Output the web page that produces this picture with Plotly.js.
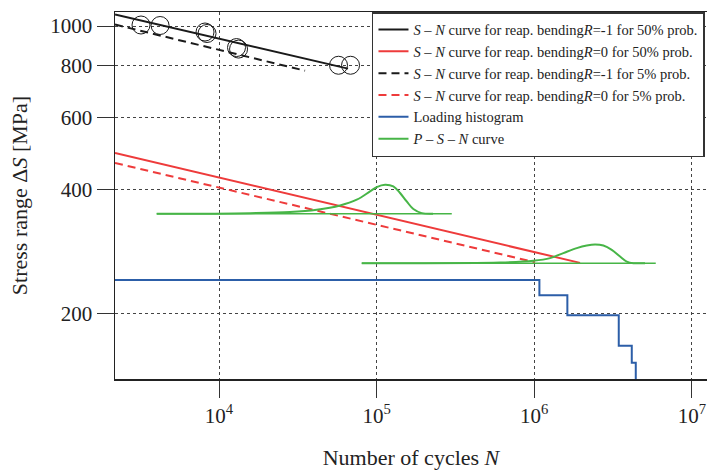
<!DOCTYPE html>
<html>
<head>
<meta charset="utf-8">
<script src="https://cdn.plot.ly/plotly-3.0.1.min.js"></script>
<style>html,body{margin:0;padding:0;background:#fff;}</style>
</head>
<body>
<div id="chart" style="width:707px;height:471px;"></div>
<script>
// Experimental data points (open circles)
const testN = [3199, 4227, 8150, 8394, 12910, 13300, 57300, 68300];
const testS = [1005.6, 1002.8, 967, 959, 886.5, 879, 803, 803];

// S-N curves (end points)
const snR1p50N = [2188, 65850];
const snR1p50S = [1066, 788];
const snR0p50N = [2188, 1953000];
const snR0p50S = [491.7, 266];
const snR1p5N = [2188, 35140];
const snR1p5S = [1008, 779];
const snR0p5N = [2188, 1010000];
const snR0p5S = [465, 267];

// Loading histogram (step)
const histN = [2000, 1078000, 1622000, 3437000, 4156000, 4406000];
const histS = [241.9, 222.1, 198.6, 167.5, 152.2, 130];

// P-S-N curve 1 (baseline + density)
const psn1BaseN = [4024, 299700];
const psn1BaseS = [350, 350];
const psn1N = [4024, 15730, 28220, 41690, 58600, 74770, 90800, 100100, 113100, 127600, 140800, 155200, 171000, 193300, 228000];
const psn1S = [350, 351.3, 353.4, 358, 366.7, 378.7, 396.7, 406.4, 411.7, 407.8, 393.2, 375, 359.4, 351.3, 350];

// P-S-N curve 2 (baseline + density)
const psn2BaseN = [80450, 5900000];
const psn2BaseS = [265.6, 265.6];
const psn2N = [80450, 606700, 987000, 1260000, 1530000, 1861000, 2154000, 2431000, 2745000, 3103000, 3503000, 3864000, 4255000, 5047000];
const psn2S = [265.6, 266.5, 269.1, 273.2, 281, 288.9, 293.1, 294.8, 293.1, 286.2, 275.6, 268.0, 265.6, 265.6];

const xTicks = [1e4, 1e5, 1e6, 1e7];
const xTickText = ['10<sup>4</sup>', '10<sup>5</sup>', '10<sup>6</sup>', '10<sup>7</sup>'];
const yTicks = [200, 400, 600, 800, 1000];
const yTickText = ['200', '400', '600', '800', '1000'];

const BLACK = '#1a1a1a', RED = '#ee3b3b', BLUE = '#2c5ea8', GREEN = '#47b547';
const SN = '<i>S</i> – <i>N</i> curve for reap. bending<i>R</i>=';

const traces = [
  {x: snR1p50N, y: snR1p50S, mode: 'lines', line: {color: BLACK, width: 2}, name: SN + '-1 for 50% prob.'},
  {x: snR0p50N, y: snR0p50S, mode: 'lines', line: {color: RED, width: 2}, name: SN + '0 for 50% prob.'},
  {x: snR1p5N, y: snR1p5S, mode: 'lines', line: {color: BLACK, width: 2, dash: '8px,5px'}, name: SN + '-1 for 5% prob.'},
  {x: snR0p5N, y: snR0p5S, mode: 'lines', line: {color: RED, width: 2, dash: '8px,5px'}, name: SN + '0 for 5% prob.'},
  {x: histN, y: histS, mode: 'lines', line: {color: BLUE, width: 2, shape: 'hv'}, name: 'Loading histogram'},
  {x: psn1N, y: psn1S, mode: 'lines', line: {color: GREEN, width: 2, shape: 'spline'}, name: '<i>P</i> – <i>S</i> – <i>N</i> curve', legendgroup: 'psn'},
  {x: psn1BaseN, y: psn1BaseS, mode: 'lines', line: {color: GREEN, width: 1.5}, showlegend: false, legendgroup: 'psn'},
  {x: psn2N, y: psn2S, mode: 'lines', line: {color: GREEN, width: 2, shape: 'spline'}, showlegend: false, legendgroup: 'psn'},
  {x: psn2BaseN, y: psn2BaseS, mode: 'lines', line: {color: GREEN, width: 1.5}, showlegend: false, legendgroup: 'psn'},
  {x: testN, y: testS, mode: 'markers', marker: {symbol: 'circle-open', size: 18, color: BLACK, line: {width: 1, color: BLACK}}, showlegend: false}
];

const FONT = 'Liberation Serif, Times New Roman, serif';

const layout = {
  width: 707, height: 471,
  margin: {l: 115, r: 0, t: 12, b: 92, pad: 0},
  paper_bgcolor: '#fff', plot_bgcolor: '#fff',
  font: {family: FONT, color: '#222', size: 21},
  showlegend: true,
  legend: {
    x: 0.9966, xanchor: 'right', y: 1, yanchor: 'top',
    bgcolor: '#fff', bordercolor: '#333', borderwidth: 1.5,
    font: {family: FONT, size: 14.5, color: '#222'},
    itemwidth: 30, tracegroupgap: 0
  },
  xaxis: {
    type: 'log', range: [3.340, 7.096],
    tickvals: xTicks, ticktext: xTickText,
    ticks: 'outside', ticklen: 17, tickwidth: 1, tickcolor: '#333',
    showline: true, linecolor: '#222', linewidth: 1.5, mirror: true,
    showgrid: true, gridcolor: '#444', gridwidth: 1, griddash: 'dot',
    zeroline: false, automargin: false,
    tickfont: {family: FONT, size: 21, color: '#222'},
    title: {text: 'Number of cycles <i>N</i>', font: {family: FONT, size: 22, color: '#222'}, standoff: 23}
  },
  yaxis: {
    type: 'log', range: [2.143, 3.034],
    tickvals: yTicks, ticktext: yTickText,
    ticks: 'outside', ticklen: 17, tickwidth: 1, tickcolor: '#333',
    showline: true, linecolor: '#222', linewidth: 1.5, mirror: false,
    showgrid: true, gridcolor: '#444', gridwidth: 1, griddash: 'dot',
    zeroline: false, automargin: false,
    tickfont: {family: FONT, size: 21, color: '#222'},
    title: {text: 'Stress range Δ<i>S</i> [MPa]', font: {family: FONT, size: 22, color: '#222'}, standoff: 16}
  }
};

Plotly.newPlot('chart', traces, layout, {displayModeBar: false, staticPlot: true});
</script>
</body>
</html>
